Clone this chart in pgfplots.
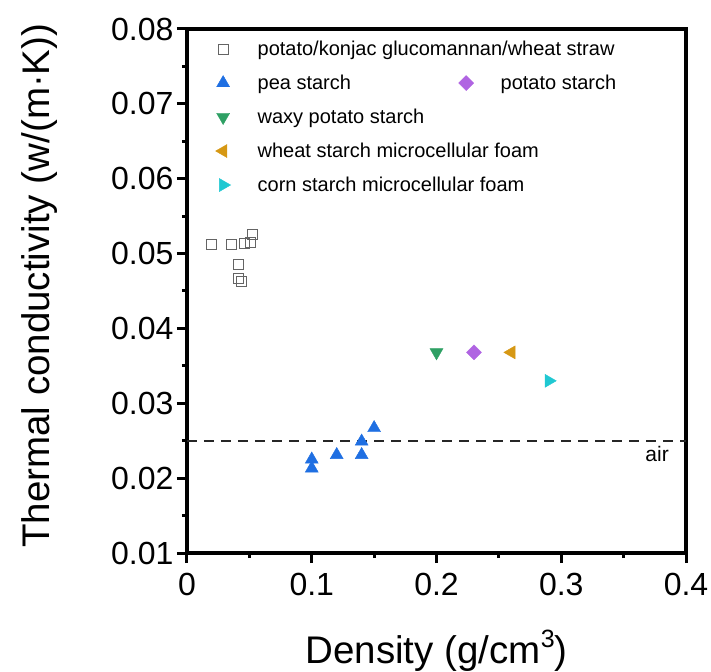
\documentclass[border=0pt]{standalone}
\usepackage{fontspec}
\setmainfont{Liberation Sans}
\usepackage{pgfplots}
\pgfplotsset{compat=1.18}
\definecolor{cblue}{RGB}{31,111,226}
\definecolor{cpurple}{RGB}{176,100,226}
\definecolor{cgreen}{RGB}{46,160,100}
\definecolor{cgold}{RGB}{214,152,20}
\definecolor{ccyan}{RGB}{32,200,210}
\definecolor{cgray}{RGB}{100,100,100}
\newcommand{\lw}[1]{\makebox[198pt][l]{#1}}
\begin{document}
\begin{tikzpicture}[x=1pt,y=1pt]
\begin{axis}[
  scale only axis,
  width=499pt, height=524pt,
  xmin=0, xmax=0.4, ymin=0.01, ymax=0.08,
  scaled x ticks=false, scaled y ticks=false,
  xtick={0,0.1,0.2,0.3,0.4},
  xticklabels={0,0.1,0.2,0.3,0.4},
  ytick={0.01,0.02,0.03,0.04,0.05,0.06,0.07,0.08},
  yticklabels={0.01,0.02,0.03,0.04,0.05,0.06,0.07,0.08},
  minor x tick num=1, minor y tick num=1,
  xtick pos=bottom, ytick pos=left,
  tick align=outside,
  major tick length=10pt, minor tick length=5pt,
  every tick/.style={black, line width=3pt},
  axis line style={line width=3.2pt},
  tick label style={font=\fontsize{32}{36}\selectfont},
  xticklabel style={yshift=-7pt},
  xlabel={Density (g/cm\raisebox{0.42em}{\fontsize{25}{25}\selectfont 3})},
  ylabel={Thermal conductivity (w/(m·K))},
  label style={font=\fontsize{38.5}{44}\selectfont},
  x label style={at={(axis description cs:0.5,-0.186)}, anchor=center},
  y label style={at={(axis description cs:-0.295,0.51)}, anchor=center},
  legend columns=2,
  legend cell align=left,
  legend style={draw=none, fill=none, font=\fontsize{20}{24}\selectfont,
    at={(axis description cs:0.051,0.985)}, anchor=north west, row sep=14pt,
    /tikz/every odd column/.append style={column sep=25pt}},
  clip=false,
]
\addplot[only marks, mark=square, mark size=5pt, draw=cgray, line width=0.9pt]
  coordinates {(0.0192,0.0512) (0.0353,0.0512) (0.0457,0.0514) (0.0505,0.0515)
               (0.0521,0.0526) (0.0409,0.0486) (0.0409,0.0467) (0.0433,0.0463)};
\addlegendentry{\makebox[0pt][l]{potato/konjac glucomannan/wheat straw}}
\addlegendimage{empty legend}\addlegendentry{}
\addplot[only marks, mark=triangle*, mark size=7.5pt, color=cblue]
  coordinates {(0.10,0.0225) (0.10,0.0213) (0.12,0.0231) (0.14,0.0249) (0.14,0.0231) (0.15,0.0267)};
\addlegendentry{\lw{pea starch}}
\addplot[only marks, mark=square*, mark size=5.3pt, color=cpurple, mark options={rotate=45}]
  coordinates {(0.23,0.0368)};
\addlegendentry{potato starch}
\addplot[only marks, mark=triangle*, mark size=7.5pt, color=cgreen, mark options={rotate=180}]
  coordinates {(0.20,0.0368)};
\addlegendentry{\lw{waxy potato starch}}
\addlegendimage{empty legend}\addlegendentry{}
\addplot[only marks, mark=triangle*, mark size=7.5pt, color=cgold, mark options={rotate=90}]
  coordinates {(0.26,0.0368)};
\addlegendentry{\lw{wheat starch microcellular foam}}
\addlegendimage{empty legend}\addlegendentry{}
\addplot[only marks, mark=triangle*, mark size=7.5pt, color=ccyan, mark options={rotate=-90}]
  coordinates {(0.29,0.0330)};
\addlegendentry{\lw{corn starch microcellular foam}}
\addplot[forget plot, black!85, line width=2pt, dash pattern=on 10pt off 7pt]
  coordinates {(0,0.025) (0.4,0.025)};
\node[anchor=east, font=\fontsize{21}{25}\selectfont] at (axis cs:0.389,0.0232) {air};
\end{axis}
\pgfresetboundingbox
\path (-187,-118) rectangle (524,553);
\end{tikzpicture}
\end{document}
